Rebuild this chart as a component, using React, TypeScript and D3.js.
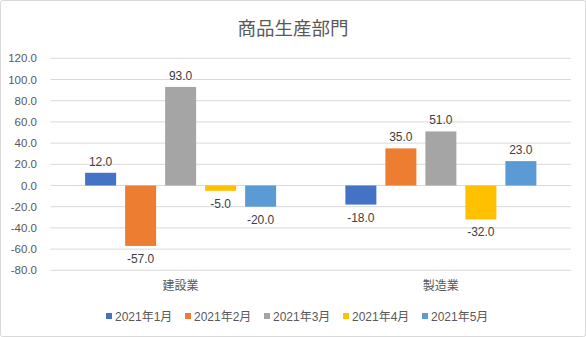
import React from "react";
import * as d3 from "d3";

const categories = ["建設業", "製造業"];
const seriesNames = ["2021年1月", "2021年2月", "2021年3月", "2021年4月", "2021年5月"];
const seriesColors = ["#4472C4", "#ED7D31", "#A5A5A5", "#FFC000", "#5B9BD5"];
const values: number[][] = [
  [12, -18],
  [-57, 35],
  [93, 51],
  [-5, -32],
  [-20, 23],
];
const yTicks = [120, 100, 80, 60, 40, 20, 0, -20, -40, -60, -80];
const title = "商品生産部門";

const W = 586;
const H = 337;
const font = "'Liberation Sans', 'Noto Sans CJK JP', sans-serif";

export default function App() {
  const left = 50.5;
  const right = 571;
  const y = d3.scaleLinear().domain([-80, 120]).range([270.3, 58.3]);
  const x0 = d3.scaleBand<string>().domain(categories).range([left, right]).paddingInner(0).paddingOuter(0);
  const groupWidth = 191;
  const x1 = d3
    .scaleBand<string>()
    .domain(seriesNames)
    .range([0, groupWidth])
    .paddingInner(9 / 40)
    .paddingOuter(0);
  const legendX = d3.scaleLinear().domain([0, 4]).range([106, 422]);

  return (
    <svg width={W} height={H} style={{ position: "absolute", left: 0, top: 0, background: "#fff" }}>
      <rect x={0.5} y={0.5} width={W - 1} height={H - 1} fill="#fff" stroke="#D9D9D9" rx={2} />
      <text x={W / 2} y={35} textAnchor="middle" fontSize={18.5} fill="#595959" fontFamily="'Noto Sans CJK JP', sans-serif">
        {title}
      </text>
      {yTicks.map((t) => (
        <g key={t}>
          <line x1={left} x2={right} y1={y(t)} y2={y(t)} stroke="#D9D9D9" strokeWidth={1} />
          <text x={37} y={y(t)} dy="0.35em" textAnchor="end" fontSize={11.5} fill="#595959" fontFamily={font}>
            {t.toFixed(1)}
          </text>
        </g>
      ))}
      {categories.map((c, ci) => {
        const gx = (x0(c) as number) + (x0.bandwidth() - groupWidth) / 2;
        return (
          <g key={c}>
            {seriesNames.map((s, si) => {
              const v = values[si][ci];
              const bx = gx + (x1(s) as number);
              const bw = x1.bandwidth();
              const top = Math.min(y(v), y(0));
              const h = Math.abs(y(v) - y(0));
              const ly = v >= 0 ? y(v) - 7 : y(v) + 17;
              return (
                <g key={s}>
                  <rect x={bx} y={top} width={bw} height={h} fill={seriesColors[si]} />
                  <text x={bx + bw / 2} y={ly} textAnchor="middle" fontSize={12} fill="#404040" fontFamily={font}>
                    {v.toFixed(1)}
                  </text>
                </g>
              );
            })}
            <text
              x={(x0(c) as number) + x0.bandwidth() / 2}
              y={290}
              textAnchor="middle"
              fontSize={12}
              fill="#595959"
              fontFamily="'Noto Sans CJK JP', sans-serif"
            >
              {c}
            </text>
          </g>
        );
      })}
      {seriesNames.map((s, si) => (
        <g key={s}>
          <rect x={legendX(si)} y={313} width={6} height={6} fill={seriesColors[si]} />
          <text x={legendX(si) + 9} y={320.5} fontSize={12} fill="#595959" fontFamily={font}>
            {s}
          </text>
        </g>
      ))}
    </svg>
  );
}
